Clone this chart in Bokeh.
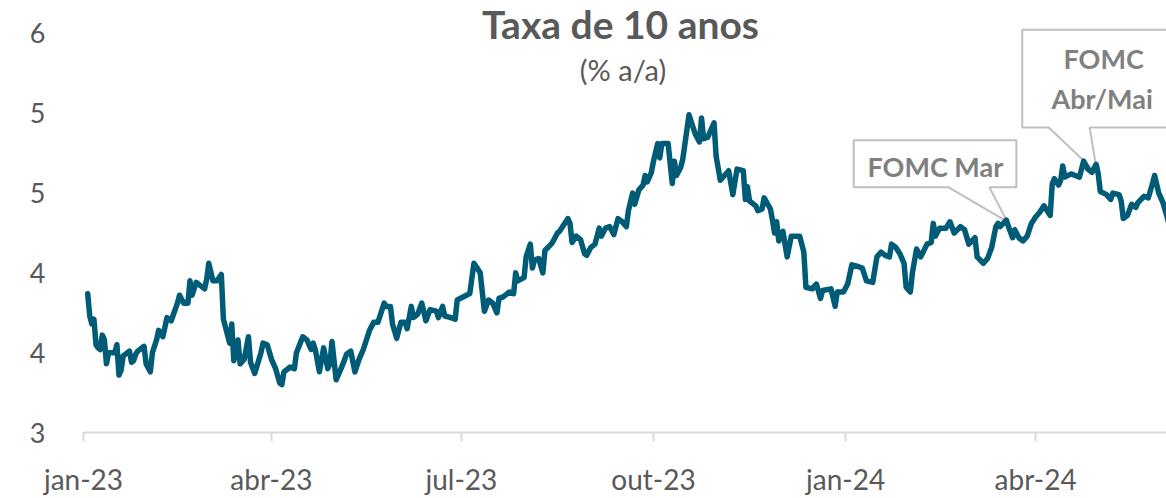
import pandas as pd
from bokeh.plotting import figure
from bokeh.models import Range1d, FixedTicker, CustomJSTickFormatter, Label
from bokeh.embed import file_html
from bokeh.resources import INLINE

# ---- data ----
# days since 2023-01-01 of each traced point
dias = [2, 3, 4, 5, 6, 7, 8, 9, 10, 11, 12, 15, 16, 17, 18, 19, 22, 23, 24, 25,
        26, 29, 30, 32, 33, 35, 36, 38, 40, 42, 45, 46, 48, 50, 51, 52, 54, 56, 58, 59,
        60, 62, 64, 66, 67, 69, 70, 71, 72, 74, 75, 77, 79, 80, 82, 85, 86, 88, 90, 92,
        94, 95, 96, 99, 101, 102, 105, 107, 109, 110, 111, 113, 115, 117, 118, 119, 121, 124, 126, 128,
        130, 132, 134, 137, 139, 141, 144, 145, 147, 148, 150, 152, 154, 155, 157, 158, 160, 162, 164, 166,
        169, 170, 172, 173, 176, 178, 179, 182, 185, 187, 190, 192, 194, 196, 198, 199, 201, 204, 206, 207,
        208, 211, 212, 214, 215, 216, 218, 220, 221, 224, 225, 227, 228, 232, 233, 234, 236, 238, 240, 241,
        243, 245, 247, 248, 250, 252, 254, 256, 258, 260, 261, 263, 264, 266, 268, 269, 270, 272, 273, 275,
        276, 277, 280, 282, 283, 284, 286, 287, 290, 293, 295, 296, 297, 299, 302, 303, 305, 307, 309, 311,
        313, 316, 317, 318, 319, 322, 323, 325, 326, 329, 330, 331, 332, 333, 335, 337, 339, 343, 345, 346,
        349, 351, 353, 354, 358, 360, 361, 364, 366, 368, 371, 373, 375, 378, 380, 382, 384, 386, 387, 389,
        391, 393, 394, 396, 397, 399, 401, 404, 406, 407, 408, 410, 413, 415, 417, 420, 422, 424, 427, 428,
        431, 433, 435, 437, 438, 439, 442, 443, 445, 446, 448, 450, 452, 454, 456, 458, 460, 461, 463, 464,
        465, 467, 468, 469, 470, 473, 475, 477, 479, 481, 483, 485, 486, 487, 490, 492, 493, 496, 497, 498,
        500, 502, 504, 505, 508, 510, 512, 513, 515, 517, 519, 520]
taxa = [3.87, 3.73, 3.68, 3.71, 3.55, 3.53, 3.52, 3.61, 3.58, 3.43, 3.50, 3.50, 3.55, 3.36, 3.39, 3.48, 3.51, 3.44, 3.45, 3.49,
        3.51, 3.54, 3.43, 3.38, 3.50, 3.58, 3.64, 3.60, 3.72, 3.70, 3.81, 3.86, 3.81, 3.81, 3.95, 3.86, 3.94, 3.92, 3.90, 3.96,
        4.06, 3.95, 3.95, 3.99, 3.71, 3.61, 3.56, 3.68, 3.45, 3.58, 3.43, 3.46, 3.60, 3.44, 3.37, 3.50, 3.56, 3.55, 3.46, 3.40,
        3.31, 3.30, 3.38, 3.41, 3.40, 3.50, 3.60, 3.58, 3.52, 3.56, 3.52, 3.38, 3.53, 3.40, 3.43, 3.57, 3.33, 3.42, 3.49, 3.51,
        3.38, 3.46, 3.52, 3.64, 3.69, 3.69, 3.81, 3.79, 3.79, 3.68, 3.59, 3.69, 3.69, 3.65, 3.79, 3.72, 3.74, 3.81, 3.70, 3.77,
        3.76, 3.72, 3.79, 3.73, 3.72, 3.71, 3.83, 3.85, 3.87, 4.06, 4.00, 3.76, 3.83, 3.81, 3.75, 3.84, 3.85, 3.88, 3.87, 4.00,
        3.95, 3.97, 4.10, 4.18, 4.03, 4.08, 4.09, 4.00, 4.14, 4.18, 4.20, 4.25, 4.26, 4.34, 4.31, 4.19, 4.23, 4.21, 4.12, 4.11,
        4.16, 4.18, 4.28, 4.23, 4.28, 4.29, 4.24, 4.34, 4.32, 4.29, 4.39, 4.50, 4.43, 4.52, 4.55, 4.61, 4.57, 4.63, 4.70, 4.81,
        4.72, 4.81, 4.81, 4.56, 4.70, 4.61, 4.66, 4.71, 4.99, 4.87, 4.82, 4.97, 4.84, 4.85, 4.94, 4.73, 4.58, 4.61, 4.64, 4.49,
        4.65, 4.64, 4.46, 4.54, 4.45, 4.42, 4.39, 4.40, 4.47, 4.40, 4.33, 4.25, 4.32, 4.20, 4.26, 4.10, 4.23, 4.23, 4.13, 3.91,
        3.90, 3.93, 3.84, 3.89, 3.90, 3.79, 3.88, 3.88, 3.93, 4.05, 4.04, 4.03, 3.95, 3.94, 4.10, 4.13, 4.11, 4.10, 4.18, 4.16,
        4.12, 4.06, 3.91, 3.88, 4.00, 4.15, 4.10, 4.18, 4.19, 4.31, 4.23, 4.28, 4.28, 4.32, 4.25, 4.29, 4.27, 4.18, 4.22, 4.10,
        4.06, 4.09, 4.16, 4.29, 4.31, 4.29, 4.33, 4.29, 4.22, 4.27, 4.22, 4.20, 4.23, 4.31, 4.35, 4.38, 4.42, 4.40, 4.36, 4.56,
        4.59, 4.55, 4.58, 4.67, 4.60, 4.62, 4.61, 4.60, 4.70, 4.65, 4.63, 4.68, 4.62, 4.51, 4.49, 4.46, 4.50, 4.49, 4.45, 4.34,
        4.36, 4.43, 4.41, 4.44, 4.48, 4.47, 4.56, 4.61, 4.50, 4.44, 4.35, 4.30]

marcas_x = ["2023-01-01", "2023-04-01", "2023-07-01", "2023-10-01", "2024-01-01", "2024-04-01"]
marcas_y = [3, 3.5, 4, 4.5, 5, 5.5]
titulo = "Taxa de 10 anos"
subtitulo = "(% a/a)"
nota_mar = "FOMC Mar"
nota_mai = "FOMC\nAbr/Mai"

# ---- build ----
inicio = pd.Timestamp("2023-01-01")
datas = inicio + pd.to_timedelta(dias, unit="D")


def ms(d):
    """day offset -> epoch milliseconds"""
    return (inicio + pd.Timedelta(days=d)).timestamp() * 1000.0


FONT = "Lato"
GRAY = "#595959"

p = figure(width=1166, height=498, x_axis_type="datetime",
           x_range=Range1d(ms(0), ms(518.7)),
           y_range=Range1d(3, 3 + 433 / 160),
           output_backend="svg", toolbar_location=None,
           min_border_left=83, min_border_right=0, min_border_top=0, min_border_bottom=65)
p.outline_line_color = None
p.xgrid.visible = False
p.ygrid.visible = False
p.background_fill_color = "white"
p.border_fill_color = "white"

# callouts (drawn under the line)
box_line = "#BFBFBF"
p.patch([ms(v) for v in [368.9, 446.8, 446.8, 433.9, 442.4, 414.4, 368.9]],
        [4.831, 4.831, 4.536, 4.536, 4.321, 4.536, 4.536],
        fill_color="white", line_color=box_line, line_width=2)
p.patch([ms(v) for v in [449.6, 530, 530, 481.9, 485.5, 462.3, 449.6]],
        [5.523, 5.523, 4.911, 4.911, 4.623, 4.911, 4.911],
        fill_color="white", line_color=box_line, line_width=2)

p.line(datas, taxa, line_color="#005B76", line_width=5.5, line_join="round", line_cap="round")

# texts
p.add_layout(Label(x=ms(257.2), y=5.556, text=titulo, text_align="center", text_baseline="alphabetic",
                   text_font=FONT, text_font_style="bold", text_font_size="39px", text_color=GRAY))
p.add_layout(Label(x=ms(258.4), y=5.275, text=subtitulo, text_align="center", text_baseline="alphabetic",
                   text_font=FONT, text_font_size="29px", text_color=GRAY))
p.add_layout(Label(x=ms(408.0), y=4.669, text=nota_mar, text_align="center", text_baseline="alphabetic",
                   text_font=FONT, text_font_style="bold", text_font_size="27px", text_color="#808080"))
l1, l2 = nota_mai.split("\n")
p.add_layout(Label(x=ms(488.6), y=5.342, text=l1, text_align="center", text_baseline="alphabetic",
                   text_font=FONT, text_font_style="bold", text_font_size="27px", text_color="#808080"))
p.add_layout(Label(x=ms(487.9), y=5.09, text=l2, text_align="center", text_baseline="alphabetic",
                   text_font=FONT, text_font_style="bold", text_font_size="27px", text_color="#808080"))

# axes
xa = p.xaxis[0]
xa.ticker = FixedTicker(ticks=[pd.Timestamp(d).timestamp() * 1000.0 for d in marcas_x])
xa.formatter = CustomJSTickFormatter(code="""
const m = ["jan","fev","mar","abr","mai","jun","jul","ago","set","out","nov","dez"];
const d = new Date(tick);
return m[d.getUTCMonth()] + "-" + String(d.getUTCFullYear()).slice(2);
""")
xa.axis_line_color = "#D9D9D9"
xa.axis_line_width = 2
xa.major_tick_line_color = "#D9D9D9"
xa.major_tick_line_width = 2
xa.major_tick_out = 9
xa.major_tick_in = 0
xa.minor_tick_out = 0
xa.minor_tick_in = 0
xa.major_label_standoff = 20
xa.major_label_text_font = FONT
xa.major_label_text_font_size = "28px"
xa.major_label_text_color = GRAY

ya = p.yaxis[0]
ya.ticker = FixedTicker(ticks=marcas_y)
ya.formatter = CustomJSTickFormatter(code="return Math.round(tick).toString();")
ya.axis_line_color = None
ya.major_tick_out = 0
ya.major_tick_in = 0
ya.minor_tick_out = 0
ya.minor_tick_in = 0
ya.major_label_standoff = 38
ya.major_label_text_font = FONT
ya.major_label_text_font_size = "27px"
ya.major_label_text_color = GRAY

open("out.html", "w").write(file_html(p, INLINE))
